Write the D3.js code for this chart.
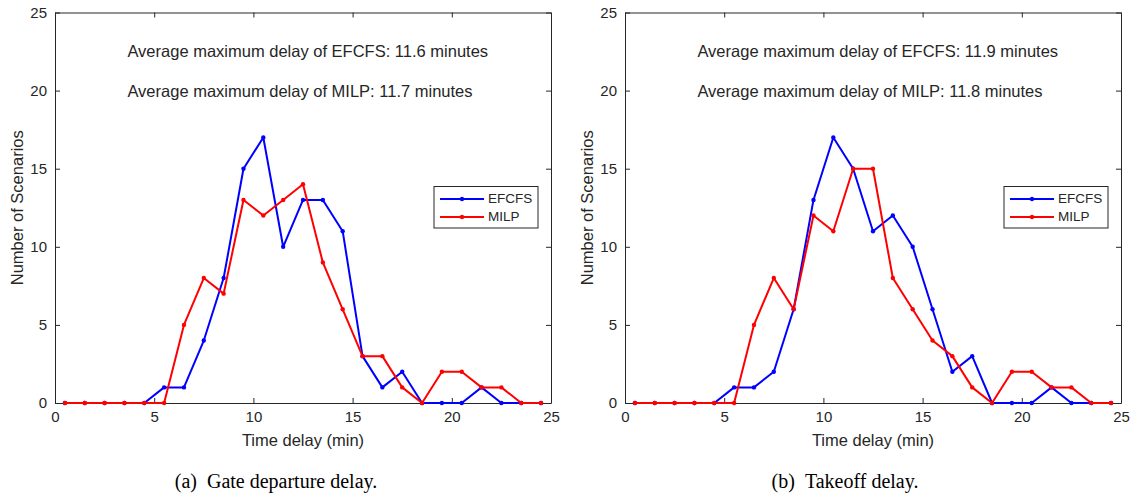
<!DOCTYPE html>
<html>
<head>
<meta charset="utf-8">
<script src="https://cdn.jsdelivr.net/npm/d3@7"></script>
<style>
  body { margin: 0; background: #fff; }
  text { font-family: "Liberation Sans", Arial, sans-serif; fill: #262626; }
  .caption { font-family: "Liberation Serif", "Times New Roman", serif; fill: #000; }
</style>
</head>
<body>
<svg id="fig" width="1130" height="494"></svg>
<script>
// DATA
const delays = [0.5, 1.5, 2.5, 3.5, 4.5, 5.5, 6.5, 7.5, 8.5, 9.5, 10.5, 11.5, 12.5,
  13.5, 14.5, 15.5, 16.5, 17.5, 18.5, 19.5, 20.5, 21.5, 22.5, 23.5, 24.5];
const gateEFCFS = [0, 0, 0, 0, 0, 1, 1, 4, 8, 15, 17, 10, 13, 13, 11, 3, 1, 2, 0, 0, 0, 1, 0, 0, 0];
const gateMILP = [0, 0, 0, 0, 0, 0, 5, 8, 7, 13, 12, 13, 14, 9, 6, 3, 3, 1, 0, 2, 2, 1, 1, 0, 0];
const takeoffEFCFS = [0, 0, 0, 0, 0, 1, 1, 2, 6, 13, 17, 15, 11, 12, 10, 6, 2, 3, 0, 0, 0, 1, 0, 0, 0];
const takeoffMILP = [0, 0, 0, 0, 0, 0, 5, 8, 6, 12, 11, 15, 15, 8, 6, 4, 3, 1, 0, 2, 2, 1, 1, 0, 0];
const xTicks = [0, 5, 10, 15, 20, 25];
const yTicks = [0, 5, 10, 15, 20, 25];
const seriesNames = ['EFCFS', 'MILP'];
const seriesColors = ['#0000ff', '#ff0000'];
const gateNotes = ['Average maximum delay of EFCFS: 11.6 minutes', 'Average maximum delay of MILP: 11.7 minutes'];
const takeoffNotes = ['Average maximum delay of EFCFS: 11.9 minutes', 'Average maximum delay of MILP: 11.8 minutes'];
const captions = ['(a)\u2002Gate departure delay.', '(b)\u2002Takeoff delay.'];

const svg = d3.select('#fig');
const plotW = 496, plotTop = 12.5, plotBottom = 403;

function drawPanel(left, series, notes, caption, captionX) {
  const x = d3.scaleLinear().domain([0, 25]).range([left, left + plotW]);
  const y = d3.scaleLinear().domain([0, 25]).range([plotBottom, plotTop]);
  const g = svg.append('g');

  //AXES (box, inward ticks)
  const ax = g.append('g');
  ax.append('g').attr('transform', `translate(0,${plotBottom})`)
    .call(d3.axisBottom(x).tickValues(xTicks).tickSize(-5).tickSizeOuter(0).tickPadding(8));
  ax.append('g').attr('transform', `translate(0,${plotTop})`)
    .call(d3.axisTop(x).tickValues(xTicks).tickSize(-5).tickSizeOuter(0).tickFormat(''));
  ax.append('g').attr('transform', `translate(${left},0)`)
    .call(d3.axisLeft(y).tickValues(yTicks).tickSize(-5).tickSizeOuter(0).tickPadding(8));
  ax.append('g').attr('transform', `translate(${left + plotW},0)`)
    .call(d3.axisRight(y).tickValues(yTicks).tickSize(-5).tickSizeOuter(0).tickFormat(''));
  ax.selectAll('g').attr('font-size', 15).attr('font-family', '"Liberation Sans", Arial, sans-serif');
  ax.selectAll('.domain, line').attr('stroke', '#262626');
  ax.selectAll('text').attr('fill', '#262626');

  //LABELS
  g.append('text')
    .attr('x', (x(0) + x(25)) / 2).attr('y', 446)
    .attr('text-anchor', 'middle').attr('font-size', 16.5)
    .text('Time delay (min)');
  g.append('text')
    .attr('transform', `translate(${left - 32},${(plotTop + plotBottom) / 2}) rotate(-90)`)
    .attr('text-anchor', 'middle').attr('font-size', 16.5)
    .text('Number of Scenarios');
  g.append('text').classed('caption', true)
    .attr('x', captionX).attr('y', 488)
    .attr('text-anchor', 'middle').attr('font-size', 20)
    .text(caption);

  //NOTES
  notes.forEach((t, i) => {
    g.append('text')
      .attr('x', x(3.65)).attr('y', y(i === 0 ? 22.4 : 19.85))
      .attr('dominant-baseline', 'middle').attr('font-size', 16.5)
      .attr('fill', '#000')
      .text(t);
  });

  //LINES
  const line = d3.line().x((d, i) => x(delays[i])).y((d) => y(d));
  series.forEach((s, k) => {
    g.append('path').datum(s)
      .attr('fill', 'none').attr('stroke', seriesColors[k])
      .attr('stroke-width', 2).attr('stroke-linejoin', 'round')
      .attr('d', line);
    g.selectAll(null).data(s).enter().append('circle')
      .attr('cx', (d, i) => x(delays[i])).attr('cy', (d) => y(d))
      .attr('r', 2.2).attr('fill', seriesColors[k]);
  });

  //LEGEND
  const lg = g.append('g').attr('transform', `translate(${left + 379},186.5)`);
  lg.append('rect').attr('width', 104).attr('height', 41.5)
    .attr('fill', '#fff').attr('stroke', '#262626').attr('stroke-width', 1);
  seriesNames.forEach((n, k) => {
    const ly = 12.5 + k * 18;
    lg.append('line').attr('x1', 6).attr('x2', 50).attr('y1', ly).attr('y2', ly)
      .attr('stroke', seriesColors[k]).attr('stroke-width', 2);
    lg.append('circle').attr('cx', 28).attr('cy', ly).attr('r', 2.2).attr('fill', seriesColors[k]);
    lg.append('text').attr('x', 54).attr('y', ly).attr('dominant-baseline', 'middle')
      .attr('font-size', 13.5).attr('fill', '#000').text(n);
  });
}

drawPanel(55, [gateEFCFS, gateMILP], gateNotes, captions[0], 276);
drawPanel(625, [takeoffEFCFS, takeoffMILP], takeoffNotes, captions[1], 845);
</script>
</body>
</html>
